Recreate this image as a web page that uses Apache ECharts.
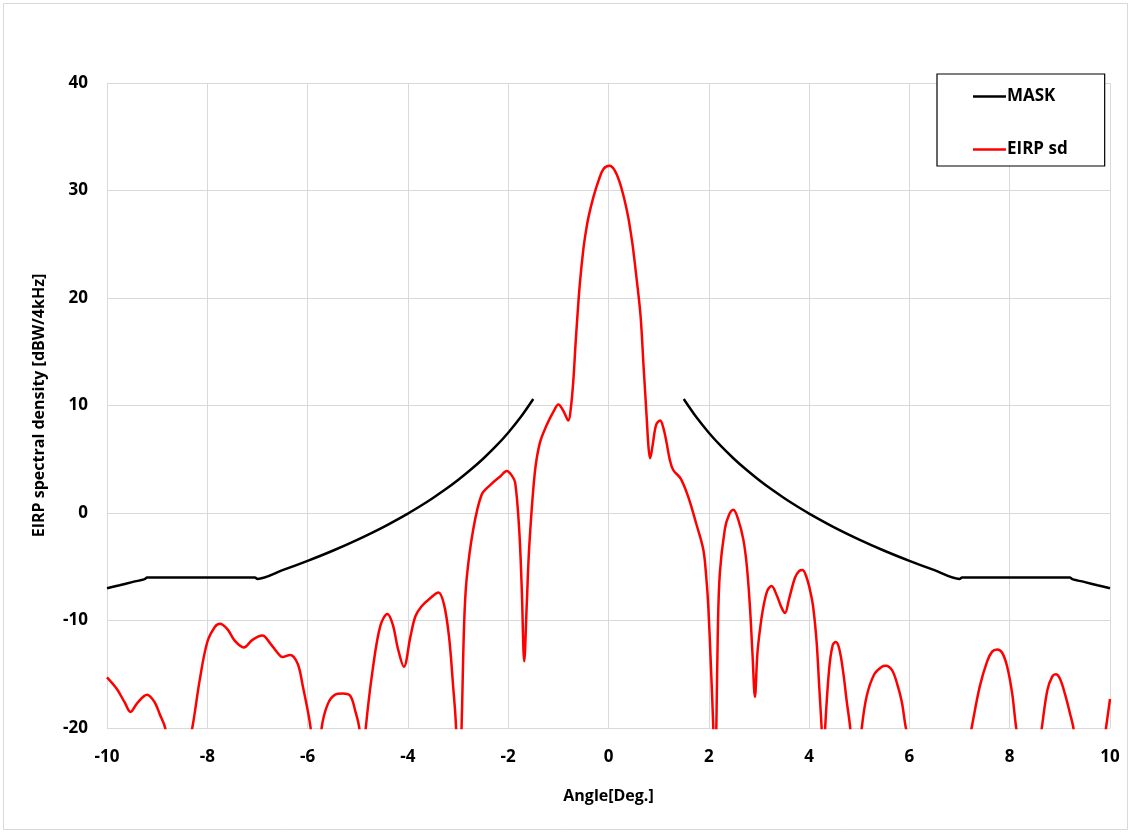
<!DOCTYPE html>
<html>
<head>
<meta charset="utf-8">
<script src="https://cdn.jsdelivr.net/npm/echarts@6/dist/echarts.min.js"></script>
<style>
  html, body { margin: 0; padding: 0; background: #fff; }
  #chart { width: 1131px; height: 833px; }
</style>
</head>
<body>
<div id="chart"></div>
<script>
// x ticks / y ticks
const xTicks = [-10, -8, -6, -4, -2, 0, 2, 4, 6, 8, 10];
const yTicks = [-20, -10, 0, 10, 20, 30, 40];

// MASK (left and right branches)
const maskLeftX = [-10, -9.75, -9.5, -9.25, -9.2, -7.05, -7.0, -6.5, -6, -5.5, -5, -4.5, -4, -3.75, -3.5, -3.25, -3, -2.75, -2.5, -2.25, -2, -1.75, -1.5];
const maskLeftY = [-7.0, -6.72, -6.43, -6.15, -6.0, -6.0, -6.13, -5.32, -4.45, -3.51, -2.47, -1.33, -0.05, 0.65, 1.40, 2.2, 3.07, 4.02, 5.05, 6.19, 7.47, 8.92, 10.6];
const maskRightX = [1.5, 1.75, 2, 2.25, 2.5, 2.75, 3, 3.25, 3.5, 3.75, 4, 4.5, 5, 5.5, 6, 6.5, 7.0, 7.05, 9.2, 9.25, 9.5, 9.75, 10];
const maskRightY = [10.6, 8.92, 7.47, 6.19, 5.05, 4.02, 3.07, 2.2, 1.40, 0.65, -0.05, -1.33, -2.47, -3.51, -4.45, -5.32, -6.13, -6.0, -6.0, -6.15, -6.43, -6.72, -7.0];

// EIRP sd pattern (values under -20 are clipped by the axis)
const eirpX = [-10.0, -9.8, -9.65, -9.53, -9.4, -9.2, -9.05, -8.95, -8.84, -8.6, -8.3, -8.15, -8.0, -7.85, -7.75, -7.6, -7.45, -7.27, -7.1, -6.9, -6.75, -6.6, -6.5, -6.35, -6.2, -6.1, -5.94, -5.83, -5.72, -5.6, -5.45, -5.3, -5.15, -5.05, -4.97, -4.9, -4.84, -4.7, -4.55, -4.41, -4.3, -4.2, -4.08, -3.95, -3.85, -3.73, -3.55, -3.39, -3.28, -3.18, -3.1, -3.04, -3.0, -2.93, -2.88, -2.83, -2.7, -2.53, -2.36, -2.16, -2.03, -1.93, -1.86, -1.78, -1.73, -1.68, -1.63, -1.58, -1.47, -1.37, -1.23, -1.1, -1.0, -0.9, -0.8, -0.75, -0.7, -0.66, -0.62, -0.57, -0.5, -0.45, -0.4, -0.3, -0.2, -0.1, 0.02, 0.12, 0.22, 0.31, 0.39, 0.44, 0.49, 0.57, 0.64, 0.7, 0.76, 0.8, 0.83, 0.88, 0.95, 1.03, 1.1, 1.16, 1.22, 1.29, 1.44, 1.59, 1.75, 1.89, 1.95, 1.99, 2.04, 2.09, 2.12, 2.15, 2.18, 2.22, 2.32, 2.4, 2.49, 2.58, 2.69, 2.76, 2.82, 2.87, 2.92, 2.97, 3.03, 3.09, 3.17, 3.25, 3.35, 3.45, 3.52, 3.6, 3.72, 3.8, 3.87, 3.95, 4.02, 4.08, 4.15, 4.2, 4.25, 4.29, 4.32, 4.4, 4.47, 4.53, 4.6, 4.68, 4.75, 4.82, 4.93, 5.05, 5.15, 5.3, 5.45, 5.53, 5.65, 5.75, 5.85, 5.93, 6.6, 7.24, 7.4, 7.55, 7.65, 7.75, 7.85, 7.95, 8.05, 8.13, 8.4, 8.64, 8.75, 8.85, 8.92, 9.0, 9.1, 9.2, 9.27, 9.6, 9.92, 10.0];
const eirpY = [-15.3, -16.4, -17.6, -18.5, -17.7, -16.9, -17.6, -18.7, -20, -27, -20, -15.5, -12.0, -10.6, -10.3, -10.8, -11.9, -12.5, -11.8, -11.4, -12.1, -13.0, -13.4, -13.2, -14.0, -16.0, -20, -26, -20, -17.8, -16.9, -16.8, -17.0, -18.4, -20, -24, -20, -14.5, -10.5, -9.4, -10.4, -12.6, -14.3, -11.5, -9.6, -8.7, -7.9, -7.4, -8.5, -11.5, -16.0, -20, -30, -20, -10.5, -6.2, -1.6, 1.7, 2.6, 3.4, 3.9, 3.5, 2.8, -1.6, -7, -13.8, -8.5, -3.1, 3.7, 6.5, 8.2, 9.4, 10.1, 9.5, 8.6, 9.8, 12.4, 15.5, 18.3, 21.4, 24.6, 26.2, 27.5, 29.4, 30.9, 32.0, 32.3, 31.9, 30.8, 29.3, 27.6, 26.2, 24.6, 21.4, 18.3, 13.6, 9.0, 6.0, 5.1, 6.3, 8.2, 8.6, 7.8, 6.5, 5.0, 4.0, 3.2, 1.5, -1.0, -3.4, -6, -8.7, -14, -20, -25, -20, -11, -5.6, -1.5, -0.2, 0.3, -0.5, -2.5, -5, -8.7, -13, -17.1, -13, -10.5, -8.7, -7.2, -6.8, -7.6, -8.8, -9.3, -8.0, -6.0, -5.4, -5.3, -6.0, -7.2, -8.7, -12, -16, -20, -24, -20, -14.5, -12.3, -12.0, -12.6, -14.8, -17.5, -20, -26, -20, -17.0, -15.0, -14.3, -14.2, -14.6, -15.8, -17.6, -20, -35, -20, -16.2, -13.8, -12.9, -12.7, -13.0, -14.3, -16.8, -20, -28, -20, -16.5, -15.2, -15.0, -15.4, -16.8, -18.6, -20, -30, -20, -17.3];

const pair = (xs, ys) => xs.map((x, i) => [x, ys[i]]);
const maskData = pair(maskLeftX, maskLeftY).concat([[0, '-']], pair(maskRightX, maskRightY));
const eirpData = pair(eirpX, eirpY);

const font = '"Open Sans", "Noto Sans", sans-serif';
const chart = echarts.init(document.getElementById('chart'));
chart.setOption({
  animation: false,
  backgroundColor: '#fff',
  graphic: [{
    type: 'rect',
    shape: { x: 3.5, y: 3.5, width: 1124, height: 826 },
    style: { fill: 'none', stroke: '#d9d9d9', lineWidth: 1 },
    silent: true
  }],
  grid: { left: 107, right: 21, top: 83, bottom: 105 },
  legend: {
    orient: 'vertical',
    left: 937,
    top: 74,
    padding: [14, 37, 8, 36],
    itemGap: 36,
    itemWidth: 33,
    itemHeight: 2.5,
    icon: 'rect',
    borderColor: '#000',
    borderWidth: 1.2,
    backgroundColor: '#fff',
    textStyle: { fontFamily: font, fontWeight: 'bold', fontSize: 17, color: '#000', padding: [0, 0, 0, -4] },
    data: ['MASK', 'EIRP sd']
  },
  xAxis: {
    type: 'value',
    min: xTicks[0],
    max: xTicks[xTicks.length - 1],
    interval: 2,
    name: 'Angle[Deg.]',
    nameLocation: 'middle',
    nameGap: 60,
    nameTextStyle: { fontFamily: font, fontWeight: 'bold', fontSize: 16, color: '#000' },
    axisLine: { lineStyle: { color: '#d9d9d9', width: 1 } },
    axisTick: { show: false },
    axisLabel: { fontFamily: font, fontWeight: 'bold', fontSize: 17, color: '#000', margin: 21 },
    splitLine: { lineStyle: { color: '#d9d9d9', width: 1 } }
  },
  yAxis: {
    type: 'value',
    min: yTicks[0],
    max: yTicks[yTicks.length - 1],
    interval: 10,
    name: 'EIRP spectral density [dBW/4kHz]',
    nameLocation: 'middle',
    nameGap: 60,
    nameTextStyle: { fontFamily: font, fontWeight: 'bold', fontSize: 16, color: '#000' },
    axisLine: { show: true, lineStyle: { color: '#d9d9d9', width: 1 } },
    axisTick: { show: false },
    axisLabel: { fontFamily: font, fontWeight: 'bold', fontSize: 17, color: '#000', margin: 19 },
    splitLine: { lineStyle: { color: '#d9d9d9', width: 1 } }
  },
  series: [
    {
      name: 'MASK',
      type: 'line',
      data: maskData,
      showSymbol: false,
      symbol: 'none',
      smooth: 0.3,
      connectNulls: false,
      clip: true,
      itemStyle: { color: '#000' },
      lineStyle: { color: '#000', width: 2.5 }
    },
    {
      name: 'EIRP sd',
      type: 'line',
      data: eirpData,
      showSymbol: false,
      symbol: 'none',
      smooth: 0.35,
      clip: true,
      itemStyle: { color: '#ff0000' },
      lineStyle: { color: '#ff0000', width: 2.5 }
    }
  ]
});
</script>
</body>
</html>
